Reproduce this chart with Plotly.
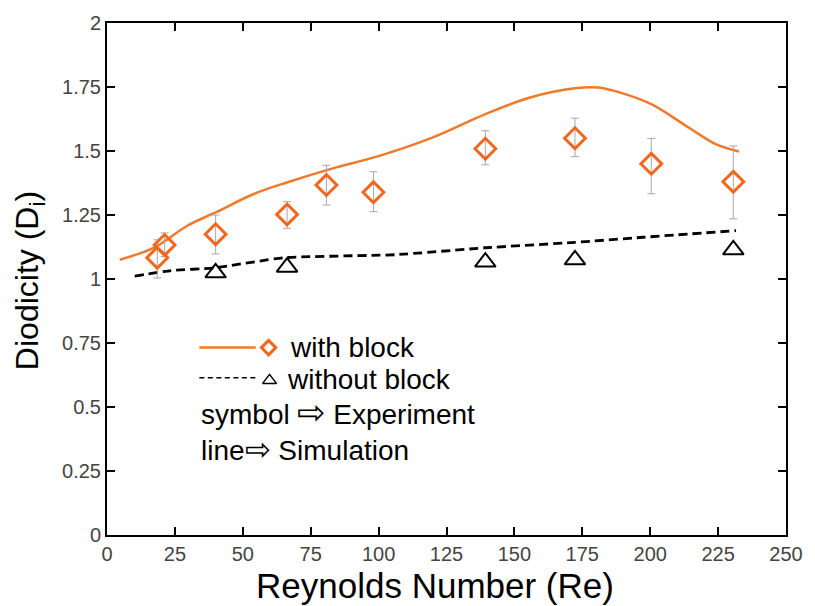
import plotly.graph_objects as go

# Experimental data: with block (diamonds, with asymmetric error bars)
re_block = [18.5, 21.2, 40.0, 66.3, 80.8, 98.1, 139.3, 172.3, 200.4, 230.6]
di_block = [1.083, 1.133, 1.175, 1.252, 1.367, 1.339, 1.509, 1.550, 1.450, 1.380]
err_up = [0.070, 0.047, 0.075, 0.050, 0.077, 0.080, 0.070, 0.078, 0.099, 0.140]
err_dn = [0.079, 0.045, 0.077, 0.054, 0.078, 0.076, 0.063, 0.072, 0.117, 0.145]

# Experimental data: without block (triangles)
re_noblock = [40.0, 66.3, 139.3, 172.3, 230.6]
di_noblock = [1.024, 1.046, 1.066, 1.075, 1.114]

# Simulation: with block (solid orange)
re_sim_block = [4.7, 17.5, 29.7, 40.0, 54.0, 66.2, 84.4, 100.0, 120.0,
                139.3, 155.8, 172.3, 180.8, 189.0, 200.4, 214.1, 224.1, 232.7]
di_sim_block = [1.075, 1.124, 1.209, 1.260, 1.332, 1.377, 1.436, 1.480, 1.553,
                1.644, 1.709, 1.745, 1.748, 1.728, 1.683, 1.592, 1.527, 1.498]

# Simulation: without block (dashed black)
re_sim_noblock = [10.2, 23.6, 39.4, 65.0, 106.3, 139.3, 172.3, 197.4, 231.6]
di_sim_noblock = [1.011, 1.033, 1.043, 1.083, 1.095, 1.122, 1.143, 1.163, 1.189]

x_ticks = [0, 25, 50, 75, 100, 125, 150, 175, 200, 225, 250]
y_ticks = [0, 0.25, 0.5, 0.75, 1, 1.25, 1.5, 1.75, 2]
y_tick_text = ["0", "0.25", "0.5", "0.75", "1", "1.25", "1.5", "1.75", "2"]

ORANGE = "#EF7A2A"
ORANGE_M = "#F2661E"
FONT = "Liberation Sans, Arial, sans-serif"

fig = go.Figure()

fig.add_trace(go.Scatter(
    x=re_sim_block, y=di_sim_block, mode="lines",
    line=dict(color=ORANGE, width=2.5, shape="spline", smoothing=1.0),
    showlegend=False, hoverinfo="skip"))

fig.add_trace(go.Scatter(
    x=re_sim_noblock, y=di_sim_noblock, mode="lines",
    line=dict(color="black", width=2.8, dash="9px,5px", shape="spline", smoothing=0.5),
    showlegend=False, hoverinfo="skip"))

fig.add_trace(go.Scatter(
    x=re_block, y=di_block, mode="markers",
    marker=dict(symbol="diamond-open", size=16, color=ORANGE_M, line=dict(width=3, color=ORANGE_M)),
    error_y=dict(type="data", symmetric=False, array=err_up, arrayminus=err_dn,
                 color="#A8A8A8", thickness=1, width=4),
    showlegend=False))

fig.add_trace(go.Scatter(
    x=re_noblock, y=di_noblock, mode="markers",
    marker=dict(symbol="triangle-up-open", size=18, color="black", line=dict(width=2, color="black")),
    showlegend=False))

# Hand-drawn legend keys on an overlay axis in [0,1] paper-like coordinates
fig.add_trace(go.Scatter(
    x=[0.136, 0.219], y=[0.366, 0.366], mode="lines", xaxis="x2", yaxis="y2",
    line=dict(color=ORANGE, width=2.5), showlegend=False, hoverinfo="skip"))
fig.add_trace(go.Scatter(
    x=[0.238], y=[0.366], mode="markers", xaxis="x2", yaxis="y2",
    marker=dict(symbol="diamond-open", size=11, color=ORANGE_M, line=dict(width=3, color=ORANGE_M)),
    showlegend=False, hoverinfo="skip"))
fig.add_trace(go.Scatter(
    x=[0.136, 0.222], y=[0.307, 0.307], mode="lines", xaxis="x2", yaxis="y2",
    line=dict(color="black", width=1.5, dash="5px,3.5px"), showlegend=False, hoverinfo="skip"))
fig.add_trace(go.Scatter(
    x=[0.2394], y=[0.302], mode="markers", xaxis="x2", yaxis="y2",
    marker=dict(symbol="triangle-up-open", size=12, color="black", line=dict(width=1.5, color="black")),
    showlegend=False, hoverinfo="skip"))

legend_font = dict(family=FONT, size=28, color="black")
annotations = [
    dict(x=0.267, y=0.366, text="with block"),
    dict(x=0.262, y=0.304, text="without block"),
    dict(x=0.136, y=0.240,
         text="symbol <span style='font-size:34px'>\u21e8</span> Experiment"),
    dict(x=0.136, y=0.167,
         text="line<span style='font-size:31px'>\u21e8</span> Simulation"),
]
for a in annotations:
    a.update(xref="paper", yref="paper", xanchor="left", yanchor="middle",
             showarrow=False, font=legend_font)

annotations.append(dict(x=0.483, y=-0.098, xref="paper", yref="paper", xanchor="center",
                        yanchor="middle", showarrow=False, text="Reynolds Number (Re)",
                        font=dict(family=FONT, size=35, color="black")))
annotations.append(dict(x=-0.114, y=0.497, xref="paper", yref="paper", xanchor="center",
                        yanchor="middle", showarrow=False, textangle=-90,
                        text="Diodicity (D<sub>i</sub>)",
                        font=dict(family=FONT, size=32, color="black")))

fig.update_layout(
    width=815, height=606,
    margin=dict(l=107, r=23, t=22, b=71),
    paper_bgcolor="white", plot_bgcolor="white",
    annotations=annotations,
    xaxis=dict(range=[0, 250], tickvals=x_ticks, ticks="inside", ticklen=8, tickwidth=2,
               tickcolor="black", showline=True, linecolor="black", linewidth=2,
               mirror="ticks", showgrid=False, zeroline=False,
               tickfont=dict(family=FONT, size=20, color="#444444")),
    yaxis=dict(range=[0, 2], tickvals=y_ticks, ticktext=y_tick_text, ticks="inside", ticklen=8,
               tickwidth=2, tickcolor="black", showline=True, linecolor="black", linewidth=2,
               mirror="ticks", showgrid=False, zeroline=False,
               tickfont=dict(family=FONT, size=20, color="#444444")),
    xaxis2=dict(range=[0, 1], overlaying="x", visible=False, fixedrange=True),
    yaxis2=dict(range=[0, 1], overlaying="y", visible=False, fixedrange=True),
)

fig.write_html("out.html")
